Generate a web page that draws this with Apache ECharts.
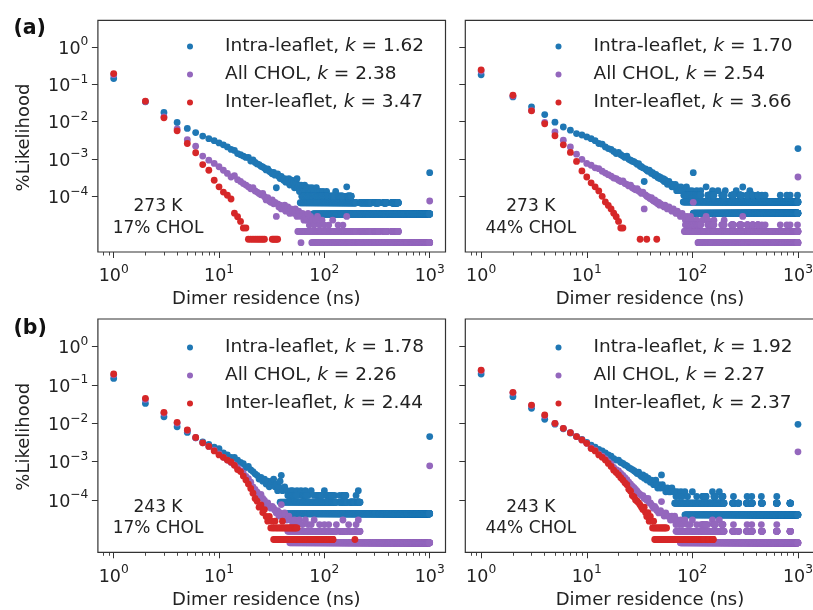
<!DOCTYPE html>
<html>
<head>
<meta charset="utf-8">
<script src="https://cdn.jsdelivr.net/npm/echarts@6/dist/echarts.min.js"></script>
<style>
  html, body { margin: 0; padding: 0; background: #fff; }
  #chart { width: 813px; height: 610px; }
</style>
</head>
<body>
<div id="chart"></div>
<script>
// ---------------------------------------------------------------------------
// Dimer residence-time distributions (log-log), four simulation conditions.
// Each series: scattered points [x (ns), likelihood] plus dense rows at a
// fixed likelihood level, given as [level, firstNs, lastNs] (one point per ns).
// ---------------------------------------------------------------------------

const seriesNames = ['Intra-leaflet', 'All CHOL', 'Inter-leaflet'];
const seriesColors = ['#1f77b4', '#9467bd', '#d62728'];
const kValues = [[1.62, 2.38, 3.47], [1.70, 2.54, 3.66], [1.78, 2.26, 2.44], [1.92, 2.27, 2.37]];
const conditionTexts = [['273 K', '17% CHOL'], ['273 K', '44% CHOL'], ['243 K', '17% CHOL'], ['243 K', '44% CHOL']];
const panelLetters = ['(a)', '(b)'];
const xTickValues = [1, 10, 100, 1000];
const xMinorTickValues = [0.8, 0.9, 2, 3, 4, 5, 6, 7, 8, 9, 20, 30, 40, 50, 60, 70, 80, 90, 200, 300, 400, 500, 600, 700, 800, 900];
const yTickValues = [1, 0.1, 0.01, 0.001, 0.0001];
const xTitle = 'Dimer residence (ns)';
const yTitle = '%Likelihood';

// ---- 273 K, 17% CHOL ----
const intra273c17 = [[1,0.143],[2,0.034],[3,0.0176],[4,0.0095],[5,0.0066],[6,0.0051],[7,0.0041],[8,0.0035],[9,0.0031],[10,0.0027],[11,0.0024],[12,0.0021],[13,0.0018],[14,0.0017],[15,0.0014],[16,0.0013],[17,0.0012],[18,0.0011],[19,0.0011],[20,0.00088],[21,0.00094],[22,0.00081],[23,0.00074],[24,0.00071],[25,0.00064],[26,0.00061],[27,0.00057],[28,0.00051],[29,0.00054],[30,0.00047],[31,0.00044],[32,0.0004],[33,0.00044],[34,0.00037],[35,0.00017],[36,0.0004],[37,0.00034],[38,0.0003],[39,0.00034],[40,0.0003],[41,0.00027],[42,0.0003],[43,0.00024],[44,0.00027],[45,0.00024],[46,0.0003],[47,0.0002],[48,0.00024],[49,0.00027],[50,0.0002],[51,0.00024],[52,0.00017],[53,0.0002],[54,0.00024],[55,0.0003],[56,0.00017],[57,0.0002],[58,0.000135],[60,0.0002],[62,0.00017],[63,0.000135],[65,0.0002],[66,0.000135],[68,0.00017],[71,0.00017],[74,0.000135],[76,0.00017],[80,0.000135],[84,0.00017],[86,0.000135],[91,0.000135],[97,0.000135],[105,0.000135],[128,0.000135],[163,0.00018],[1000,0.00043]];
const intra273c17Rows = [[3.37e-5,78,1000],[6.74e-5,59,200],[6.74e-5,218,281],[6.74e-5,300,330],[6.74e-5,363,391],[6.74e-5,436,504],[1.01e-4,61,125],[1.01e-4,135,150],[1.01e-4,165,180]];
const all273c17 = [[1,0.181],[2,0.0344],[3,0.0135],[4,0.0064],[5,0.0033],[6,0.0022],[7,0.0012],[8,0.00093],[9,0.00076],[10,0.00062],[11,0.0005],[12,0.00041],[13,0.00033],[14,0.00036],[15,0.00028],[16,0.00025],[17,0.00022],[18,0.0002],[19,0.00018],[20,0.00016],[21,0.00017],[22,0.00014],[23,0.00013],[24,0.00012],[25,0.00011],[26,0.00012],[27,0.000098],[28,0.00008],[29,0.000092],[30,0.000075],[31,0.000069],[32,0.00008],[33,0.000063],[34,0.000069],[35,0.000029],[36,0.000063],[37,0.000052],[38,0.000058],[39,0.000046],[40,0.000052],[41,0.000046],[42,0.000058],[43,0.00004],[44,0.000046],[45,0.000052],[46,0.00004],[47,0.000035],[48,0.000046],[50,0.00004],[52,0.000035],[53,0.000046],[55,0.000029],[57,0.00004],[58,0.000035],[60,0.000029],[62,0.000035],[64,0.000023],[66,0.000029],[68,0.000023],[70,0.000035],[72,0.000017],[74,0.000029],[77,0.000023],[80,0.000017],[83,0.000023],[86,0.000029],[90,0.000017],[95,0.000023],[100,0.000017],[110,0.000017],[120,0.000023],[135,0.000017],[150,0.000017],[163,0.000029],[1000,0.000075]];
const all273c17Rows = [[5.75e-6,60,60],[5.75e-6,76,1000],[1.15e-5,56,200],[1.15e-5,218,281],[1.15e-5,300,330],[1.15e-5,363,391],[1.15e-5,436,504]];
const inter273c17 = [[1,0.194],[2,0.0353],[3,0.0127],[4,0.0057],[5,0.0026],[6,0.00147],[7,0.00071],[8,0.0005],[9,0.00027],[10,0.00018],[11,0.00013],[12,0.000107],[13,0.000085],[14,0.0000355],[15,0.0000284],[16,0.0000213],[17,0.0000142],[18,0.0000142]];
const inter273c17Rows = [[7.1e-6,19,27],[7.1e-6,32,36]];

// ---- 273 K, 44% CHOL ----
const intra273c44 = [[1,0.18],[2,0.046],[3,0.025],[4,0.0155],[5,0.0097],[6,0.0072],[7,0.0059],[8,0.0048],[9,0.0044],[10,0.0039],[11,0.0035],[12,0.0031],[13,0.0026],[14,0.0025],[15,0.0021],[16,0.0019],[17,0.0018],[18,0.0016],[19,0.0014],[20,0.0015],[21,0.0013],[22,0.0012],[23,0.0011],[24,0.0012],[25,0.00098],[26,0.00093],[27,0.00087],[28,0.00085],[29,0.00079],[30,0.00072],[31,0.00075],[32,0.00064],[33,0.00062],[34,0.00058],[35,0.00025],[36,0.00054],[37,0.0005],[38,0.00047],[39,0.0005],[40,0.00046],[41,0.00041],[42,0.00043],[43,0.00039],[44,0.00036],[45,0.00039],[46,0.00036],[47,0.00032],[48,0.00034],[49,0.0003],[50,0.00032],[52,0.00028],[53,0.0003],[54,0.00025],[55,0.00028],[57,0.00025],[58,0.00021],[60,0.00025],[62,0.00021],[64,0.00018],[65,0.00021],[67,0.00018],[69,0.00021],[71,0.000142],[73,0.00018],[75,0.000142],[78,0.00018],[80,0.000142],[85,0.000142],[88,0.00018],[93,0.000142],[99,0.000142],[102,0.00043],[110,0.000142],[120,0.000142],[135,0.00018],[155,0.000142],[175,0.000142],[205,0.000142],[260,0.000142],[300,0.000178],[350,0.000142],[1000,0.0019]];
const intra273c44Rows = [[3.55e-5,102,1000],[7.1e-5,82,1000],[1.07e-4,83,120],[1.07e-4,140,160],[1.07e-4,190,200],[1.07e-4,235,245],[1.07e-4,280,290],[1.07e-4,330,335],[1.07e-4,370,375],[1.07e-4,415,420],[1.07e-4,455,455],[1.07e-4,489,489],[1.07e-4,680,680],[1.07e-4,785,785],[1.07e-4,843,843],[1.07e-4,990,990]];
const all273c44 = [[1,0.227],[2,0.049],[3,0.0198],[4,0.0096],[5,0.0053],[6,0.0032],[7,0.0021],[8,0.00135],[9,0.00098],[10,0.00076],[11,0.00068],[12,0.00058],[13,0.00055],[14,0.00047],[15,0.00042],[16,0.00038],[17,0.00035],[18,0.00031],[19,0.0003],[20,0.00027],[21,0.00025],[22,0.00026],[23,0.00022],[24,0.00021],[25,0.00019],[26,0.0002],[27,0.00017],[28,0.00016],[29,0.00015],[30,0.00016],[31,0.00014],[32,0.00013],[33,0.00012],[34,0.00013],[35,0.000046],[36,0.00011],[37,0.0001],[38,0.000098],[39,0.000092],[40,0.000086],[41,0.000092],[42,0.00008],[43,0.000075],[44,0.00008],[45,0.000069],[46,0.000072],[47,0.000063],[48,0.000069],[49,0.000058],[50,0.000063],[52,0.000058],[54,0.000052],[55,0.000058],[57,0.000052],[58,0.000046],[60,0.000052],[62,0.000046],[64,0.00004],[66,0.000046],[68,0.00004],[70,0.000035],[72,0.00004],[74,0.000035],[77,0.000029],[80,0.000035],[83,0.000029],[86,0.000023],[89,0.000029],[92,0.000023],[96,0.000029],[100,0.000023],[102,0.000069],[110,0.000023],[125,0.000023],[135,0.000029],[140,0.000023],[160,0.000023],[200,0.000023],[300,0.000029],[1000,0.00033]];
const all273c44Rows = [[5.75e-6,113,1000],[1.15e-5,84,1000],[1.73e-5,86,120],[1.73e-5,140,160],[1.73e-5,190,200],[1.73e-5,235,245],[1.73e-5,280,290],[1.73e-5,330,335],[1.73e-5,370,375],[1.73e-5,415,420],[1.73e-5,455,455],[1.73e-5,489,489],[1.73e-5,680,680],[1.73e-5,785,785],[1.73e-5,843,843],[1.73e-5,990,990]];
const inter273c44 = [[1,0.245],[2,0.051],[3,0.0195],[4,0.0088],[5,0.0042],[6,0.0024],[7,0.0015],[8,0.00086],[9,0.00048],[10,0.00033],[11,0.00023],[12,0.00018],[13,0.00014],[14,0.0001],[15,0.000071],[16,0.000057],[17,0.000046],[18,0.0000355],[19,0.0000284],[20,0.0000213],[21,0.0000142],[22,0.0000142],[32,0.0000071],[37,0.0000071],[46,0.0000071]];
const inter273c44Rows = [];

// ---- 243 K, 17% CHOL ----
const intra243c17 = [[1,0.149],[2,0.033],[3,0.0148],[4,0.0081],[5,0.0058],[6,0.0042],[7,0.0033],[8,0.0028],[9,0.0024],[10,0.0022],[11,0.0017],[12,0.0015],[13,0.0013],[14,0.0013],[15,0.0011],[16,0.00095],[17,0.00088],[18,0.0007],[19,0.00075],[20,0.00061],[21,0.00055],[22,0.00048],[23,0.00044],[24,0.00035],[25,0.00039],[26,0.00031],[27,0.00035],[28,0.00026],[29,0.00031],[30,0.00022],[31,0.00026],[32,0.00031],[33,0.00035],[34,0.00022],[35,0.00026],[36,0.000175],[37,0.00022],[38,0.00031],[39,0.00044],[40,0.000175],[42,0.00022],[44,0.000175],[46,0.000131],[48,0.000175],[50,0.000175],[52,0.000131],[55,0.000175],[58,0.000131],[60,0.000175],[63,0.000131],[66,0.000175],[70,0.000131],[75,0.000175],[80,0.000131],[90,0.000131],[100,0.000175],[110,0.000131],[125,0.000131],[140,0.000131],[160,0.000131],[200,0.000131],[210,0.000175],[1000,0.0045]];
const intra243c17Rows = [[4.37e-5,42,1000],[8.74e-5,38,130],[8.74e-5,140,165],[8.74e-5,175,195],[8.74e-5,205,218],[1.31e-4,45,55],[1.31e-4,62,68],[1.31e-4,85,95],[1.31e-4,105,118],[1.31e-4,150,158]];
const all243c17 = [[1,0.184],[2,0.042],[3,0.0184],[4,0.0101],[5,0.0065],[6,0.0042],[7,0.0031],[8,0.0025],[9,0.002],[10,0.0016],[11,0.0013],[12,0.0011],[13,0.00095],[14,0.00082],[15,0.0007],[16,0.00058],[17,0.0005],[18,0.00041],[19,0.00036],[20,0.00029],[21,0.00022],[22,0.00019],[23,0.00016],[24,0.00013],[25,0.00014],[26,0.00011],[27,0.000098],[28,0.000076],[29,0.000084],[30,0.000068],[31,0.000061],[32,0.000068],[33,0.000061],[34,0.000053],[35,0.000046],[36,0.000053],[37,0.000038],[38,0.000046],[39,0.000076],[40,0.000038],[42,0.000046],[44,0.00003],[46,0.000038],[48,0.00003],[50,0.0000228],[52,0.00003],[55,0.0000228],[58,0.00003],[62,0.0000228],[66,0.00003],[70,0.0000228],[75,0.0000228],[80,0.00003],[90,0.0000228],[100,0.0000228],[110,0.0000228],[130,0.0000228],[150,0.00003],[170,0.0000228],[200,0.0000228],[210,0.00003],[1000,0.00078]];
const all243c17Rows = [[7.6e-6,47,1000],[1.52e-5,45,130],[1.52e-5,140,165],[1.52e-5,175,195],[1.52e-5,205,218]];
const inter243c17 = [[1,0.194],[2,0.0449],[3,0.0194],[4,0.0106],[5,0.0067],[6,0.0043],[7,0.0031],[8,0.0025],[9,0.0019],[10,0.0015],[11,0.0013],[12,0.0011],[13,0.00098],[14,0.0008],[15,0.00062],[16,0.00055],[17,0.00042],[18,0.00033],[19,0.00026],[20,0.0002],[21,0.00015],[22,0.00011],[23,0.000093],[24,0.000065],[25,0.000074],[26,0.000047],[27,0.000056],[28,0.000037],[29,0.000028],[30,0.000037],[32,0.000028],[34,0.000028],[40,0.000028]];
const inter243c17Rows = [[9.3e-6,33,121],[9.3e-6,195,195],[1.86e-5,31,55]];

// ---- 243 K, 44% CHOL ----
const intra243c44 = [[1,0.194],[2,0.0495],[3,0.0246],[4,0.0127],[5,0.0095],[6,0.0072],[7,0.0056],[8,0.0045],[9,0.0038],[10,0.0032],[11,0.0027],[12,0.0024],[13,0.0021],[14,0.0019],[15,0.0017],[16,0.0015],[17,0.0014],[18,0.0012],[19,0.0011],[20,0.0011],[21,0.00095],[22,0.0009],[23,0.00082],[24,0.00078],[25,0.0007],[26,0.00066],[27,0.00062],[28,0.00058],[29,0.00054],[30,0.00049],[31,0.00053],[32,0.00045],[33,0.00041],[34,0.00045],[35,0.00037],[36,0.00041],[37,0.00033],[38,0.00037],[39,0.00033],[40,0.00029],[41,0.00033],[42,0.00029],[43,0.00025],[44,0.00029],[45,0.00033],[46,0.00025],[47,0.000205],[48,0.00025],[50,0.000205],[51,0.00045],[52,0.00025],[54,0.000205],[56,0.000164],[58,0.000205],[60,0.000164],[62,0.000164],[64,0.000205],[66,0.000164],[68,0.000164],[70,0.000123],[72,0.000164],[75,0.000123],[78,0.000164],[80,0.000123],[85,0.000164],[90,0.000123],[100,0.000164],[110,0.000123],[155,0.000164],[180,0.000164],[1000,0.0094]];
const intra243c44Rows = [[4.1e-5,85,1000],[8.2e-5,68,200],[8.2e-5,240,250],[8.2e-5,270,275],[8.2e-5,325,345],[8.2e-5,360,370],[8.2e-5,450,460],[8.2e-5,625,635],[8.2e-5,840,850],[1.23e-4,125,135],[1.23e-4,160,165],[1.23e-4,190,195],[1.23e-4,245,245],[1.23e-4,330,330],[1.23e-4,365,365],[1.23e-4,450,450],[1.23e-4,630,630]];
const all243c44 = [[1,0.237],[2,0.062],[3,0.029],[4,0.0158],[5,0.0099],[6,0.0074],[7,0.0057],[8,0.0045],[9,0.0037],[10,0.003],[11,0.0023],[12,0.002],[13,0.0016],[14,0.0014],[15,0.0012],[16,0.001],[17,0.00087],[18,0.00071],[19,0.00062],[20,0.00057],[21,0.00049],[22,0.00044],[23,0.00038],[24,0.00034],[25,0.00029],[26,0.00026],[27,0.00023],[28,0.00021],[29,0.00019],[30,0.00017],[31,0.00015],[32,0.00014],[33,0.00013],[34,0.00013],[35,0.00011],[36,0.00011],[37,0.000099],[38,0.00011],[39,0.000084],[40,0.000084],[41,0.000076],[42,0.000068],[43,0.000061],[44,0.000068],[45,0.000061],[46,0.000053],[48,0.000046],[50,0.000053],[51,0.000091],[52,0.000046],[54,0.000038],[56,0.000046],[58,0.000038],[60,0.000038],[62,0.00003],[64,0.000038],[66,0.00003],[68,0.000038],[70,0.0000228],[72,0.00003],[75,0.0000228],[78,0.00003],[80,0.0000228],[85,0.00003],[90,0.0000228],[95,0.0000228],[100,0.00003],[110,0.0000228],[120,0.0000228],[140,0.0000228],[155,0.00003],[180,0.00003],[1000,0.0018]];
const all243c44Rows = [[7.6e-6,77,1000],[1.52e-5,70,200],[1.52e-5,240,250],[1.52e-5,270,275],[1.52e-5,325,345],[1.52e-5,360,370],[1.52e-5,450,460],[1.52e-5,625,635],[1.52e-5,840,850],[2.28e-5,125,135],[2.28e-5,160,165],[2.28e-5,190,195],[2.28e-5,245,245],[2.28e-5,330,330],[2.28e-5,365,365],[2.28e-5,450,450],[2.28e-5,630,630]];
const inter243c44 = [[1,0.246],[2,0.0646],[3,0.03],[4,0.0165],[5,0.01],[6,0.0074],[7,0.0057],[8,0.0045],[9,0.0037],[10,0.003],[11,0.0022],[12,0.0019],[13,0.0015],[14,0.0013],[15,0.0011],[16,0.0009],[17,0.00075],[18,0.0006],[19,0.00052],[20,0.00045],[21,0.00038],[22,0.00033],[23,0.00028],[24,0.00025],[25,0.00019],[26,0.00017],[27,0.00013],[28,0.00012],[29,0.0001],[30,0.000093],[31,0.000084],[32,0.000074],[33,0.000065],[34,0.000056],[35,0.000065],[36,0.000047],[37,0.000037],[38,0.000047],[39,0.000028],[40,0.000037],[41,0.000028],[43,0.000028]];
const inter243c44Rows = [[9.3e-6,44,130],[9.3e-6,140,145],[9.3e-6,155,158],[1.86e-5,42,57]];

// Panel order: (a) left, (a) right, (b) left, (b) right
const panelSeries = [
  [[intra273c17, intra273c17Rows], [all273c17, all273c17Rows], [inter273c17, inter273c17Rows]],
  [[intra273c44, intra273c44Rows], [all273c44, all273c44Rows], [inter273c44, inter273c44Rows]],
  [[intra243c17, intra243c17Rows], [all243c17, all243c17Rows], [inter243c17, inter243c17Rows]],
  [[intra243c44, intra243c44Rows], [all243c44, all243c44Rows], [inter243c44, inter243c44Rows]]
];

// ---------------------------------------------------------------------------
// Layout and styling
// ---------------------------------------------------------------------------
const FONT = 'DejaVu Sans';
const TEXT = '#222';
const FRAME = '#333';

// Right-hand panels run past the page edge, so their right spine is clipped.
const layout = [
  { left: 97.9,  top: 20.3, width: 347.6, height: 231.7, xlog: [-0.15, 3.15],  ylog: [-5.49, 0.714] },
  { left: 465.3, top: 20.3, width: 352.0, height: 231.7, xlog: [-0.15, 3.183], ylog: [-5.49, 0.714] },
  { left: 97.9,  top: 319,  width: 347.6, height: 233.3, xlog: [-0.15, 3.15],  ylog: [-5.366, 0.723] },
  { left: 465.3, top: 319,  width: 352.0, height: 233.3, xlog: [-0.15, 3.183], ylog: [-5.366, 0.723] }
];

function expandRows(rows) {
  const pts = [];
  rows.forEach(([level, x0, x1]) => {
    for (let x = x0; x <= x1; x++) pts.push([x, level]);
  });
  return pts;
}

function powerLabel(value) {
  const e = Math.round(Math.log10(value));
  const exp = e < 0 ? '\u2212' + (-e) : String(e);
  return '{b|10}{s|' + exp + '}';
}

const powerRich = {
  b: { fontFamily: FONT, fontSize: 17.5, color: TEXT, lineHeight: 22, verticalAlign: 'bottom' },
  s: { fontFamily: FONT, fontSize: 12.25, color: TEXT, lineHeight: 12, verticalAlign: 'top' }
};

const grids = [], xAxes = [], yAxes = [], legends = [], series = [];

layout.forEach((g, i) => {
  grids.push({
    left: g.left, top: g.top, width: g.width, height: g.height,
    outerBoundsMode: 'none', containLabel: false,
    show: true, borderColor: FRAME, borderWidth: 1.2, backgroundColor: 'transparent'
  });

  const xmin = Math.pow(10, g.xlog[0]), xmax = Math.pow(10, g.xlog[1]);

  // major decade ticks with labels
  xAxes.push({
    gridIndex: i, type: 'log', logBase: 10, position: 'bottom',
    min: xmin, max: xmax,
    axisLine: { show: false }, splitLine: { show: false },
    axisTick: { show: true, length: 6, customValues: xTickValues, lineStyle: { color: FRAME, width: 1 } },
    axisLabel: { show: true, customValues: xTickValues, margin: 11.7, hideOverlap: false,
                 formatter: powerLabel, rich: powerRich }
  });
  // minor ticks
  xAxes.push({
    gridIndex: i, type: 'log', logBase: 10, position: 'bottom',
    min: xmin, max: xmax,
    axisLine: { show: false }, splitLine: { show: false },
    axisTick: { show: true, length: 3.5, customValues: xMinorTickValues, lineStyle: { color: FRAME, width: 0.9 } },
    axisLabel: { show: false }
  });

  yAxes.push({
    gridIndex: i, type: 'log', logBase: 10, position: 'left',
    min: Math.pow(10, g.ylog[0]), max: Math.pow(10, g.ylog[1]),
    axisLine: { show: false }, splitLine: { show: false },
    axisTick: { show: true, length: 6, customValues: yTickValues, lineStyle: { color: FRAME, width: 1 } },
    axisLabel: { show: i % 2 === 0, customValues: yTickValues, margin: 9.5, hideOverlap: false,
                 formatter: powerLabel, rich: powerRich }
  });

  const names = seriesNames.map((n, j) => n + ', k = ' + kValues[i][j].toFixed(2));

  legends.push({
    data: names,
    orient: 'vertical',
    left: i % 2 === 0 ? 187 : 555.5,
    top: i < 2 ? 36.5 : 337.5,
    padding: 0,
    itemWidth: 60, itemHeight: 6, itemGap: 8,
    icon: 'circle',
    selectedMode: false,
    textStyle: {
      fontFamily: FONT, fontSize: 18.5, color: TEXT, lineHeight: 20,
      rich: { i: { fontFamily: FONT, fontSize: 18.5, fontStyle: 'italic', color: TEXT, lineHeight: 20 } }
    },
    formatter: name => name.replace(', k =', ', {i|k} =')
  });

  panelSeries[i].forEach(([pts, rows], j) => {
    series.push({
      type: 'scatter',
      name: names[j],
      xAxisIndex: 2 * i, yAxisIndex: i,
      data: pts.concat(expandRows(rows)),
      symbol: 'circle', symbolSize: 6.8,
      large: false,
      itemStyle: { color: seriesColors[j], opacity: 1 },
      emphasis: { disabled: true },
      silent: true
    });
  });
});

// Texts: axis titles, panel letters, condition annotations
const graphics = [];
const xTitleCenters = [266.3, 650];
const xTitleY = [299.5, 600.5];
const yTitleY = [137.5, 436.7];
const letterY = [28.5, 328.3];
const condX = [158, 530.8];
const condY = [[206.7, 228.3], [507.5, 529]];

for (let r = 0; r < 2; r++) {
  for (let c = 0; c < 2; c++) {
    graphics.push({ type: 'text', x: xTitleCenters[c], y: xTitleY[r], silent: true,
      style: { text: xTitle, fontFamily: FONT, fontSize: 18, fill: TEXT, align: 'center', verticalAlign: 'middle' } });
    const cond = conditionTexts[r * 2 + c];
    cond.forEach((t, k) => {
      graphics.push({ type: 'text', x: condX[c], y: condY[r][k], silent: true,
        style: { text: t, fontFamily: FONT, fontSize: 17, fill: TEXT, align: 'center', verticalAlign: 'middle' } });
    });
  }
  graphics.push({ type: 'text', x: 24, y: yTitleY[r], rotation: Math.PI / 2, silent: true,
    style: { text: yTitle, fontFamily: FONT, fontSize: 18, fill: TEXT, align: 'center', verticalAlign: 'middle' } });
  graphics.push({ type: 'text', x: 13.4, y: letterY[r], silent: true,
    style: { text: panelLetters[r], fontFamily: FONT, fontSize: 20.5, fontWeight: 'bold', fill: '#111', align: 'left', verticalAlign: 'middle' } });
}

const chart = echarts.init(document.getElementById('chart'), null, { renderer: 'canvas' });
chart.setOption({
  animation: false,
  backgroundColor: '#ffffff',
  grid: grids,
  xAxis: xAxes,
  yAxis: yAxes,
  legend: legends,
  series: series,
  graphic: graphics
});
</script>
</body>
</html>
